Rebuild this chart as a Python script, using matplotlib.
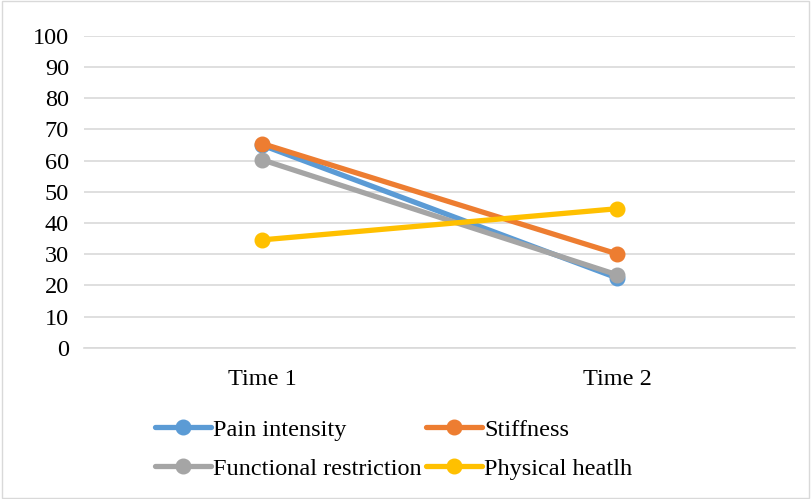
import matplotlib
matplotlib.use("Agg")
import matplotlib.pyplot as plt
from matplotlib.patches import Rectangle

categories = ["Time 1", "Time 2"]
series_names = ["Pain intensity", "Stiffness", "Functional restriction", "Physical heatlh"]
pain = [65.0, 22.4]
stiffness = [65.5, 30.1]
functional = [60.3, 23.4]
physical = [34.6, 44.6]
colors = ["#5B9BD5", "#ED7D31", "#A5A5A5", "#FFC000"]

plt.rcParams['font.family'] = ['Liberation Serif', 'DejaVu Serif']
FS = 17.5

fig = plt.figure(figsize=(8.11, 4.99), dpi=100)
ax = fig.add_axes([0.104, 0.303, 0.876, 0.625])

x = [0.5, 1.5]
handles = []
for vals, name, c in zip([pain, stiffness, functional, physical], series_names, colors):
    h, = ax.plot(x, vals, color=c, lw=3.8, marker='o', ms=10.5, label=name, solid_capstyle='round', zorder=3)
    handles.append(h)

ax.set_xlim(0, 2)
ax.set_ylim(0, 100)
ax.set_yticks(range(0, 101, 10))
ax.set_xticks(x)
ax.set_xticklabels(categories)
ax.grid(axis='y', color='#D9D9D9', lw=1.2)
ax.set_axisbelow(True)
for s in ['top', 'right', 'left']:
    ax.spines[s].set_visible(False)
ax.spines['bottom'].set_color('#D9D9D9')
ax.spines['bottom'].set_linewidth(1.2)
ax.tick_params(axis='both', length=0, labelsize=FS, colors='black')
ax.tick_params(axis='x', pad=15)
ax.tick_params(axis='y', pad=11)

order = [0, 2, 1, 3]
leg = fig.legend(handles=[handles[i] for i in order], labels=[series_names[i] for i in order],
                 ncol=2, loc='upper left',
                 bbox_to_anchor=(0.191, 0.161), frameon=False, fontsize=FS,
                 handlelength=2.3, handletextpad=0.1, columnspacing=0.17,
                 labelspacing=0.7, borderpad=0, borderaxespad=0)

fig.patches.append(Rectangle((0.003, 0.003), 0.994, 0.994, transform=fig.transFigure,
                             fill=False, edgecolor='#D9D9D9', lw=1))

fig.savefig("out.png", dpi=100)
